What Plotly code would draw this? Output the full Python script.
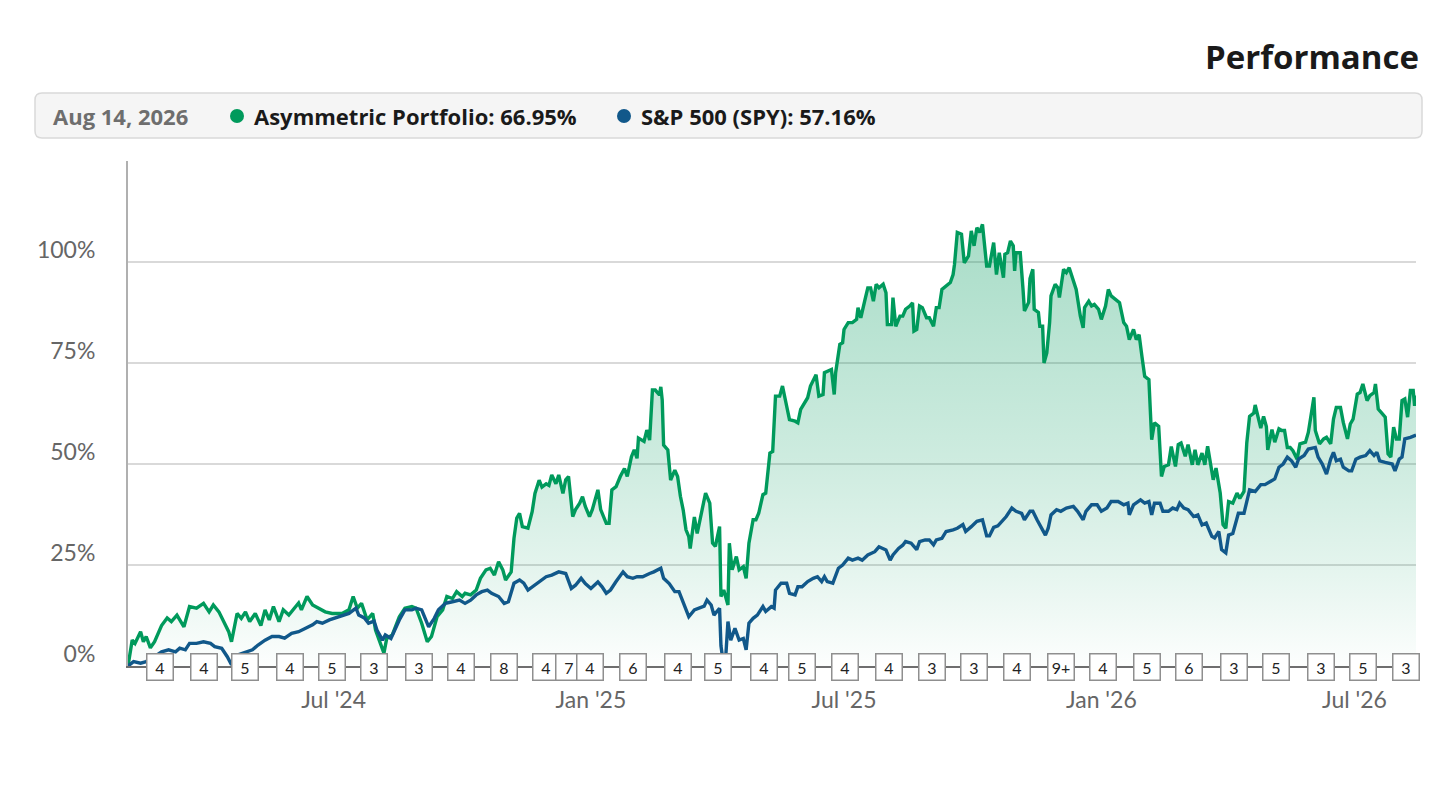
""" Asymmetric portfolio vs S&P 500 performance line chart """

import pandas as pd
from plotly import graph_objects as go

# Day offsets are counted from the first trading day shown on the chart
START_DATE = "2024-02-05"
END_DATE = "2026-08-14"

PORTFOLIO_DAY = [
    0, 3, 5, 9, 11, 13, 16, 19, 24, 28, 31, 35, 40, 44, 49, 54, 58, 61, 65, 68,
    72, 74, 78, 81, 84, 87, 91, 95, 98, 101, 104, 108, 111, 115, 118, 122, 124,
    128, 132, 136, 141, 146, 153, 158, 161, 164, 167, 171, 175, 177, 181, 183,
    185, 189, 194, 198, 203,
    206, 210, 214, 217, 221, 225, 228, 232, 235, 239, 241, 245, 249, 252, 256,
    259, 262, 265, 268, 270, 274, 276, 278, 280, 282, 286, 289, 291, 294, 296,
    299, 301, 303, 306, 308, 311, 313, 315, 318, 320, 323, 325, 327, 330, 332,
    336, 338, 342, 344, 346, 349, 352, 355, 357, 360, 362, 364, 365, 369, 371,
    373, 375, 377, 380, 381, 382, 383, 386, 388, 391, 393, 395, 397, 399, 401,
    402, 405, 407, 410, 412,
    413, 416, 418, 420, 423, 424, 426, 429, 430, 432, 435, 437, 440, 442, 444,
    447, 449, 451, 454, 456, 459, 461, 463, 466, 468, 471, 473, 477, 479, 481,
    484, 486, 488, 492, 494, 497, 498, 500, 503, 505, 506, 509, 511, 512, 515,
    518, 521, 522, 524, 527, 529, 531, 533, 535, 537, 540, 542, 543, 546, 547,
    549, 552, 554, 556, 559, 561, 562, 564, 566, 568, 571, 573, 576, 578, 580,
    582, 585, 588, 590, 591, 593, 596, 598, 601, 603, 605, 607, 609, 611, 614,
    616, 619, 621, 623, 626,
    627, 629, 631, 633, 634, 635, 638, 640, 641, 644, 645, 647, 648, 651, 652,
    654, 655, 657, 659, 660, 663, 665, 666, 669, 671, 673, 676, 678, 681, 683,
    684, 687, 689, 691, 694, 696, 699, 701, 703, 706, 709, 712, 714, 716, 719,
    721, 723, 725, 727, 730, 732, 734, 737, 739, 741, 744, 746, 749, 751, 753,
    756, 758, 761, 763, 765, 768, 770, 772, 774, 776, 778, 781, 783, 785, 787,
    790, 793, 795, 798, 800, 802, 805, 806, 808, 810, 812, 814, 815,
    818, 820, 823, 825, 827, 829, 831, 833, 836, 838, 842, 844, 846, 848, 849,
    852, 855, 857, 860, 862, 864, 867, 869, 872, 874, 876, 879, 881, 883, 886,
    888, 891, 892, 894, 897, 899, 901, 903, 905, 907, 909, 911, 913, 915, 917,
    919, 920, 921,
]
PORTFOLIO = [
    0.0, 6.4, 5.6, 8.5, 6.0, 7.3, 4.5, 6.0, 10.0, 11.9, 11.0, 12.6, 9.7, 14.7,
    14.3, 15.5, 13.4, 15.1, 13.4, 11.4, 8.5, 6.0, 13.0, 11.8, 13.4, 11.0, 13.0,
    10.0, 13.9, 11.4, 14.7, 11.0, 13.9, 12.6, 13.9, 15.6, 13.9, 17.2, 15.1,
    14.3, 13.4, 13.0, 13.0, 13.9, 17.2, 14.3, 15.5, 11.4, 13.0, 8.9, 4.8, 3.2,
    6.8, 7.7, 12.2, 14.3, 14.7,
    14.3, 10.6, 6.0, 7.3, 12.2, 13.9, 17.2, 16.7, 18.4, 17.2, 18.0, 17.6, 18.8,
    21.7, 23.8, 24.2, 22.5, 25.8, 23.8, 21.3, 23.3, 31.6, 36.6, 37.8, 34.5,
    34.1, 38.2, 42.7, 46.0, 44.3, 45.1, 44.7, 47.3, 45.1, 47.3, 42.7, 46.1,
    46.9, 37.0, 38.7, 40.3, 41.9, 39.5, 37.0, 38.7, 43.6, 38.7, 35.3, 35.3,
    43.6, 44.4, 46.9, 48.9, 46.9, 51.8, 53.5, 51.4, 56.4, 55.6, 58.4, 55.9,
    68.3, 68.3, 67.1, 69.1, 65.8, 54.7, 53.5, 46.0, 48.5, 46.9, 42.0, 38.6,
    33.7, 32.0, 29.1, 36.9, 32.8, 37.8, 41.9,
    42.8, 40.3, 30.4, 29.6, 34.5, 17.2, 18.8, 15.1, 30.4, 23.8, 27.1, 23.8,
    24.6, 21.7, 30.4, 36.2, 36.2, 37.8, 42.4, 42.8, 52.7, 53.1, 66.8, 66.8,
    69.3, 64.3, 61.0, 60.6, 60.2, 63.5, 65.2, 66.4, 69.3, 72.1, 66.8, 67.2,
    72.6, 73.0, 73.4, 67.2, 72.6, 79.6, 80.0, 83.3, 85.0, 85.0, 85.8, 88.7,
    86.2, 90.7, 93.6, 93.6, 90.3, 94.5, 93.6, 94.5, 92.4, 84.5, 84.5, 91.2,
    84.1, 86.6, 86.6, 88.3, 89.1, 89.9, 82.9, 83.3, 89.1, 88.7, 86.2, 86.2,
    84.1, 88.7, 88.7, 93.2, 94.0, 94.9, 96.9, 99.4, 107.3, 106.9, 99.8, 101.5,
    107.7, 104.0, 108.5, 107.3, 109.3, 99.0, 99.0, 104.8, 96.9, 102.3, 96.1,
    101.9, 102.3, 105.2, 104.0, 97.8, 102.3, 102.3, 93.2, 87.9, 90.0, 95.9,
    98.2, 88.3, 87.5, 84.1, 84.1, 75.0, 77.5, 85.0, 91.6, 94.5, 93.6, 91.2,
    98.2, 97.4, 98.6, 95.3, 93.2, 86.6, 83.7, 88.7, 90.3, 89.1, 89.5, 88.3,
    85.8, 89.1, 93.2, 91.6, 90.7, 89.9, 85.0, 84.1, 80.8, 83.3, 80.8, 82.0,
    76.7, 71.7, 70.9, 56.0, 60.2, 59.3, 46.9, 49.4, 49.8, 54.3, 49.4, 54.8,
    55.2, 51.9, 54.8, 49.8, 53.5, 49.8, 52.7, 49.8, 54.4, 50.2, 46.1, 49.0,
    42.8, 35.0, 34.1, 40.7, 40.3, 42.8, 41.5, 43.2, 55.2, 61.8, 62.6, 64.6,
    61.8, 58.9, 61.8, 59.3, 53.5,
    58.5, 55.4, 58.7, 58.3, 58.3, 54.1, 54.1, 53.3, 51.2, 55.0, 55.4, 57.8,
    62.4, 66.5, 58.3, 55.0, 56.2, 56.6, 55.0, 61.1, 64.0, 64.0, 60.3, 56.2,
    59.9, 61.1, 67.3, 67.7, 69.8, 65.7, 66.9, 67.7, 69.8, 63.6, 62.4, 61.6,
    52.5, 51.7, 59.1, 56.2, 56.2, 65.7, 66.1, 61.6, 68.2, 68.2, 64.4, 66.95,
]

SPY_DAY = [
    0, 4, 9, 13, 19, 24, 29, 34, 37, 41, 44, 49, 54, 59, 62, 67, 71, 74, 78, 84,
    89, 93, 98, 103, 108, 112, 117, 122, 127, 132, 135, 139, 144, 148, 153, 158,
    163, 165, 169, 172, 176, 178, 182, 184, 188, 190, 194, 198, 203,
    206, 210, 215, 219, 222, 227, 232, 237, 241, 245, 249, 253, 257, 260, 265,
    269, 272, 276, 280, 283, 286, 289, 294, 299, 303, 308, 313, 317, 320, 324,
    327, 331, 336, 339, 342, 345, 349, 354, 357, 361, 364, 368, 373, 376, 381,
    383, 387, 391, 394, 398, 401, 405, 408, 412,
    414, 417, 419, 423, 424, 426, 427, 429, 431, 434, 437, 440, 442, 444, 447,
    450, 454, 456, 460, 462, 463, 467, 471, 473, 477, 479, 482, 486, 490, 493,
    496, 498, 500, 504, 508, 511, 515, 518, 522, 525, 529, 534, 537, 542, 545,
    547, 551, 554, 556, 560, 564, 566, 570, 573, 576, 578, 582, 585, 590, 593,
    597, 599, 603, 607, 611, 614, 616, 619, 622,
    625, 628, 632, 635, 639, 641, 645, 647, 650, 653, 656, 658, 660, 664, 667,
    671, 676, 679, 683, 685, 689, 693, 696, 700, 703, 708, 712, 715, 716, 719,
    724, 727, 730, 732, 734, 738, 740, 744, 747, 750, 752, 755, 758, 762, 765,
    768, 771, 775, 777, 780, 782, 785, 787, 790, 794, 798, 800, 802, 806, 810,
    813, 815,
    818, 820, 823, 826, 829, 832, 835, 837, 841, 844, 849, 851, 854, 857, 860,
    862, 864, 867, 869, 873, 875, 878, 881, 885, 888, 891, 893, 895, 899, 904,
    906, 909, 911, 913, 917, 919, 921,
]
SPY = [
    0.0, 1.1, 0.7, 1.1, 2.3, 3.5, 4.0, 3.5, 4.4, 4.0, 5.6, 5.6, 6.0, 5.6, 4.8,
    4.4, 2.3, 0.3, 2.7, 3.5, 4.0, 5.2, 6.4, 7.3, 7.3, 6.9, 8.1, 8.5, 9.3, 10.2,
    11.0, 10.6, 11.4, 11.9, 12.6, 13.0, 14.3, 12.6, 11.9, 10.6, 11.1, 8.9, 6.4,
    7.7, 6.8, 8.5, 11.4, 13.9, 13.9,
    14.3, 13.9, 9.7, 11.8, 13.9, 15.5, 15.9, 16.3, 15.5, 16.3, 17.6, 18.4, 18.8,
    18.0, 17.2, 15.5, 15.9, 20.5, 21.3, 20.5, 18.8, 19.6, 20.9, 22.1, 22.5,
    23.3, 22.9, 19.2, 20.0, 21.7, 20.4, 19.2, 20.8, 19.6, 18.0, 18.8, 20.9,
    23.3, 22.1, 21.7, 22.1, 22.1, 22.9, 23.3, 24.2, 21.7, 20.4, 18.4, 18.4,
    15.1, 12.2, 13.9, 14.3, 14.8,
    16.3, 15.1, 12.6, 14.3, 5.0, 0.0, 0.0, 11.0, 6.4, 9.3, 6.4, 6.8, 4.0, 10.6,
    11.8, 12.6, 14.7, 13.5, 14.7, 14.3, 18.8, 20.5, 20.5, 18.0, 17.6, 19.6,
    19.6, 20.9, 21.7, 22.1, 20.9, 22.1, 20.9, 20.5, 24.2, 25.0, 26.7, 26.2,
    26.7, 26.2, 27.5, 28.3, 29.5, 28.7, 26.2, 27.5, 29.1, 29.9, 30.8, 30.4,
    28.8, 30.8, 31.2, 31.2, 30.0, 31.2, 31.6, 33.3, 33.7, 34.1, 35.0, 33.3,
    34.5, 35.8, 36.2, 32.2, 32.2, 34.3, 34.7,
    35.8, 37.0, 39.1, 38.3, 37.8, 36.2, 38.3, 38.3, 36.2, 34.5, 32.4, 34.1,
    37.4, 38.7, 38.3, 39.1, 39.5, 38.3, 36.2, 38.3, 39.9, 39.9, 38.3, 39.1,
    40.7, 40.7, 39.9, 40.3, 37.4, 39.9, 41.1, 40.3, 40.7, 37.4, 40.3, 40.3,
    38.3, 38.3, 39.1, 38.7, 40.3, 39.1, 38.7, 37.0, 37.4, 34.9, 35.4, 32.1,
    31.7, 33.3, 28.8, 28.0, 32.4, 32.8, 37.8, 37.8, 41.1, 43.6, 43.2, 44.9,
    44.9, 45.3,
    45.9, 46.3, 49.2, 50.0, 51.7, 50.8, 49.2, 51.2, 52.1, 53.7, 54.1, 51.7,
    50.0, 47.5, 51.2, 52.9, 50.8, 51.2, 49.2, 48.3, 48.3, 51.2, 51.7, 52.1,
    53.3, 52.1, 52.9, 50.8, 50.4, 50.0, 48.3, 51.2, 51.7, 56.2, 56.6, 57.0,
    57.16,
]

# Trade-count flags along the time axis
FLAG_DATES = [
    "2024-02-28", "2024-03-30", "2024-04-29", "2024-05-31", "2024-06-30",
    "2024-07-30", "2024-08-31", "2024-09-30", "2024-10-31", "2024-11-30",
    "2024-12-16", "2024-12-31", "2025-01-31", "2025-03-04", "2025-04-02",
    "2025-05-05", "2025-06-01", "2025-07-02", "2025-08-02", "2025-09-02",
    "2025-10-02", "2025-11-02", "2025-12-03", "2026-01-02", "2026-02-03",
    "2026-03-05", "2026-04-06", "2026-05-06", "2026-06-07", "2026-07-07",
    "2026-08-07",
]
FLAG_LABELS = [
    "4", "4", "5", "4", "5", "3", "3", "4", "8", "4", "7", "4", "6", "4", "5",
    "4", "5", "4", "4", "3", "3", "4", "9+", "4", "5", "6", "3", "5", "3", "5",
    "3",
]

X_TICKS = ["2024-07-01", "2025-01-01", "2025-07-01", "2026-01-01", "2026-07-01"]
X_TICK_TEXT = ["Jul '24", "Jan '25", "Jul '25", "Jan '26", "Jul '26"]
Y_TICKS = [0, 25, 50, 75, 100, 125]
Y_TICK_TEXT = ["0%", "25%", "50%", "75%", "100%", ""]

GREEN = "#009a5c"
BLUE = "#11588a"
FONT = "Lato, 'Open Sans', sans-serif"
HEAD_FONT = "'Open Sans', Lato, sans-serif"

# Figure geometry (pixels) used to place the header items in paper units
W, H = 1454, 792
ML, MR, MT, MB = 128, 38, 161, 126
PW, PH = W - ML - MR, H - MT - MB


def px_x(x):
    return (x - ML) / PW


def px_y(y):
    return (H - MB - y) / PH


def to_dates(days):
    return pd.Timestamp(START_DATE) + pd.to_timedelta(days, unit="D")


def rounded_box(x0, y0, x1, y1, r):
    """ Rounded rectangle path in paper coordinates from pixel corners """
    rx, ry = r / PW, r / PH
    a, b, c, d = px_x(x0), px_y(y1), px_x(x1), px_y(y0)
    return (f"M{a + rx},{b} L{c - rx},{b} Q{c},{b} {c},{b + ry} "
            f"L{c},{d - ry} Q{c},{d} {c - rx},{d} L{a + rx},{d} "
            f"Q{a},{d} {a},{d - ry} L{a},{b + ry} Q{a},{b} {a + rx},{b} Z")


fig = go.Figure()

fig.add_trace(go.Scatter(
    x=to_dates(PORTFOLIO_DAY), y=PORTFOLIO,
    mode="lines", name="Asymmetric Portfolio",
    line=dict(color=GREEN, width=3.4),
    fill="tozeroy",
    fillgradient=dict(
        type="vertical", start=0, stop=110,
        colorscale=[[0, "rgba(0,154,92,0.01)"], [0.23, "rgba(0,154,92,0.11)"],
                    [0.45, "rgba(0,154,92,0.19)"], [0.95, "rgba(0,154,92,0.33)"],
                    [1, "rgba(0,154,92,0.34)"]]),
    hovertemplate="%{x|%b %d, %Y}: %{y:.2f}%<extra></extra>"))

fig.add_trace(go.Scatter(
    x=to_dates(SPY_DAY), y=SPY,
    mode="lines", name="S&P 500 (SPY)",
    line=dict(color=BLUE, width=3.4),
    hovertemplate="%{x|%b %d, %Y}: %{y:.2f}%<extra></extra>"))

annotations = []
for d, lab in zip(FLAG_DATES, FLAG_LABELS):
    annotations.append(dict(
        x=d, y=0, xref="x", yref="y", text=lab, showarrow=False,
        bgcolor="white", bordercolor="#8f8f8f", borderwidth=1.5, borderpad=2,
        width=21, height=21, yshift=-1,
        font=dict(family=FONT, size=16, color="#222222")))

# Header: title and the value read-out box
annotations += [
    dict(x=px_x(1421), y=px_y(56), xref="paper", yref="paper",
         xanchor="right", yanchor="middle", showarrow=False,
         text="<b>Performance</b>",
         font=dict(family=HEAD_FONT, size=33, color="#1a1a1a")),
    dict(x=px_x(51), y=px_y(116), xref="paper", yref="paper",
         xanchor="left", yanchor="middle", showarrow=False,
         text="<b>Aug 14, 2026</b>",
         font=dict(family=HEAD_FONT, size=22, color="#6e6e6e")),
    dict(x=px_x(252), y=px_y(116), xref="paper", yref="paper",
         xanchor="left", yanchor="middle", showarrow=False,
         text=f"<b>Asymmetric Portfolio: {PORTFOLIO[-1]:.2f}%</b>",
         font=dict(family=HEAD_FONT, size=22, color="#1a1a1a")),
    dict(x=px_x(639), y=px_y(116), xref="paper", yref="paper",
         xanchor="left", yanchor="middle", showarrow=False,
         text=f"<b>S&P 500 (SPY): {SPY[-1]:.2f}%</b>",
         font=dict(family=HEAD_FONT, size=22, color="#1a1a1a")),
]

shapes = [
    dict(type="path", xref="paper", yref="paper",
         path=rounded_box(35, 93, 1422, 138, 7),
         fillcolor="#f5f5f5", line=dict(color="#d9d9d9", width=1.5)),
]
for cx, col in [(237, GREEN), (624, BLUE)]:
    shapes.append(dict(
        type="circle", xref="paper", yref="paper",
        xsizemode="pixel", ysizemode="pixel",
        xanchor=px_x(cx), yanchor=px_y(116),
        x0=-7, x1=7, y0=-7, y1=7,
        fillcolor=col, line=dict(width=0)))

fig.update_layout(
    width=W, height=H,
    margin=dict(l=ML, r=MR, t=MT, b=MB),
    paper_bgcolor="white", plot_bgcolor="white",
    showlegend=False,
    font=dict(family=FONT),
    xaxis=dict(
        type="date", range=[START_DATE, END_DATE],
        tickvals=X_TICKS, ticktext=X_TICK_TEXT,
        ticks="outside", ticklen=12, tickcolor="#ccd6eb", tickwidth=1,
        tickfont=dict(family=FONT, size=23, color="#666666"),
        showgrid=False, zeroline=False,
        showline=True, linecolor="#6e6e6e", linewidth=2),
    yaxis=dict(
        range=[0, 125], tickvals=Y_TICKS, ticktext=Y_TICK_TEXT,
        ticks="", ticklabelshift=-12, ticklabelstandoff=26,
        tickfont=dict(family=FONT, size=23, color="#666666"),
        showgrid=True, gridcolor="#d9d9d9", gridwidth=1.5, zeroline=False,
        showline=True, linecolor="#b0b0b0", linewidth=2),
    annotations=annotations,
    shapes=shapes,
)

fig.write_html("out.html",
               config={"displayModeBar": False},
               post_script="document.body.style.margin='0';"
                           "document.body.style.overflow='hidden';")
